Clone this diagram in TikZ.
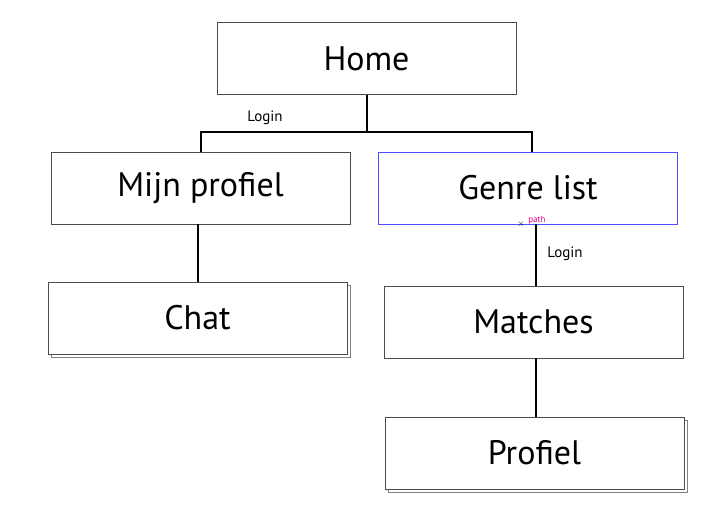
\documentclass[tikz,border=0pt]{standalone}
\usepackage{fontspec}
\setmainfont{PT Sans}
\usepackage{tikz}
\usetikzlibrary{positioning,shadows}
\tikzset{
  item/.style={draw=black!70, fill=white, rectangle, align=center, minimum width=299pt, minimum height=72pt, font=\fontsize{34}{38}\selectfont},
  stacked/.style={general shadow={shadow xshift=3pt, shadow yshift=-3pt, draw=black!50, fill=white}},
  picked/.style={draw=blue!70!white},
  conn/.style={line width=2pt, black},
  lbl/.style={font=\fontsize{15}{17}\selectfont, inner sep=0pt}
}
\begin{document}
\begin{tikzpicture}[x=1pt, y=-1pt]
    \useasboundingbox (0,0) rectangle (728,516);
    % nodes
    \node (Home)    [item] at (366.5,58.5) {Home};
    \node (Mijn)    [item] at (200.5,188) {Mijn profiel};
    \node (Genre)   [item, picked] at (528,188) {Genre list};
    \node (Chat)    [item, stacked] at (197.5,318) {Chat};
    \node (Matches) [item] at (533.5,322) {Matches};
    \node (Profiel) [item, stacked] at (534.5,453) {Profiel};
    \coordinate (jL) at (201,132);
    \coordinate (jR) at (532,132);
    \coordinate (jM) at (536,300);
    % arrows
    \draw [conn] (Home) -- (Home |- jL);
    \draw [conn] (jL |- Mijn.north) -- (jL) -- (jR) -- (jR |- Genre.north);
    \draw [conn] (Chat.north |- Mijn.south) -- (Chat);
    \draw [conn] (jM |- Genre.south) -- (jM |- Matches.north);
    \draw [conn] (jM |- Matches.south) -- (jM |- Profiel.north);
    % labels
    \node (login1) [lbl] at (265,118) {Login};
    \node (login2) [lbl] at (565,254) {Login};
    % selection marks
    \node (pathmark) [font=\fontsize{9}{10}\selectfont, text=magenta, inner sep=0pt] at (537,220) {path};
    \node (cross) [font=\fontsize{9}{10}\selectfont, inner sep=0pt] at (521,224.5) {$\times$};
\end{tikzpicture}
\end{document}
